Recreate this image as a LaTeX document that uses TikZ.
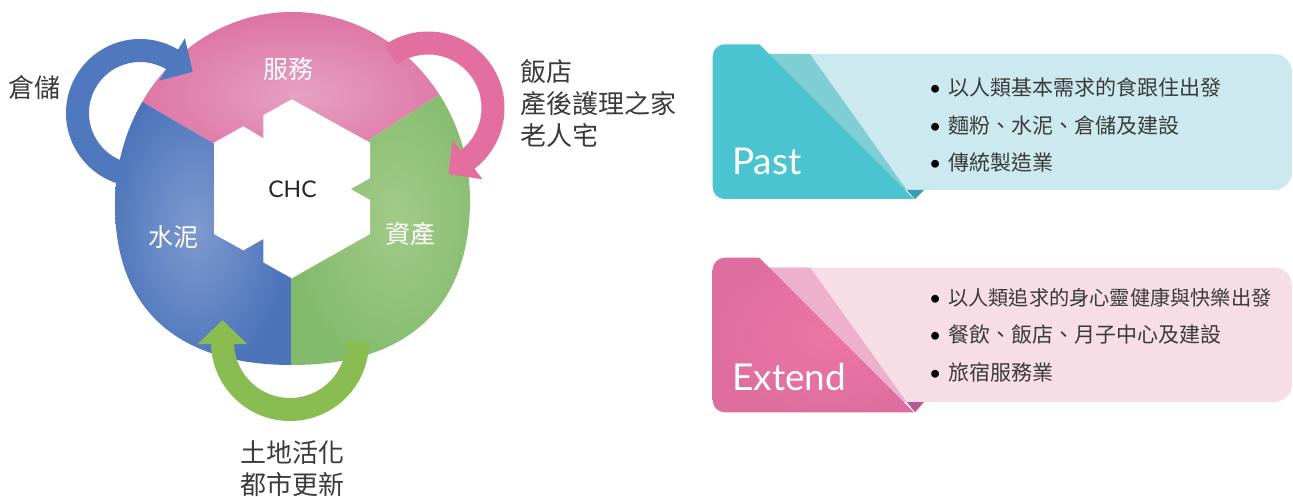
\documentclass[tikz,border=0pt]{standalone}
\usepackage{fontspec}
\setmainfont{Lato}
\newfontfamily\cjk{Noto Sans CJK TC}
\usetikzlibrary{arrows.meta}
\definecolor{pinkedge}{HTML}{DC6C9F}
\definecolor{pinkmid}{HTML}{E6A0C2}
\definecolor{blueedge}{HTML}{4A73BA}
\definecolor{bluemid}{HTML}{7E9ACE}
\definecolor{greenedge}{HTML}{82BB6C}
\definecolor{greenmid}{HTML}{A3CA88}
\definecolor{pinkarc}{HTML}{E26FA0}
\definecolor{bluearc}{HTML}{4F78BE}
\definecolor{greenarc}{HTML}{8ABD51}
\definecolor{pastdark}{HTML}{4BC4D1}
\definecolor{pastband}{HTML}{7FCED3}
\definecolor{pastlight}{HTML}{CBE9EE}
\definecolor{pasttip}{HTML}{3A9FAB}
\definecolor{extdark}{HTML}{DF6EA0}
\definecolor{extmid}{HTML}{EC76A2}
\definecolor{extband}{HTML}{EEB1CB}
\definecolor{extlight}{HTML}{F6DDE6}
\definecolor{exttip}{HTML}{B65A94}
\definecolor{txtgray}{HTML}{3A3A3A}
\newcommand{\pointmark}{\makebox[19pt][l]{\rmfamily\textcolor{black}{•}}}
\begin{document}
\begin{tikzpicture}[x=1pt,y=-1pt,
  lbl/.style={font=\cjk\fontsize{26}{31.7}\selectfont, text=txtgray, inner sep=0pt},
  seclbl/.style={font=\cjk\fontsize{25}{25}\selectfont, text=white, inner sep=0pt},
  bul/.style={font=\cjk\fontsize{21}{37.3}\selectfont, text=txtgray, align=left, inner sep=0pt, anchor=west},
  ttl/.style={font=\fontsize{37}{37}\selectfont, text=white, inner sep=0pt, anchor=base west},
  cyc/.style={line width=23pt, -{Triangle[width=48pt,length=24pt]}}]
\useasboundingbox (0,0) rectangle (1293,497);

\coordinate (O) at (291.7,189);
\coordinate (blueC) at (140,113);
\coordinate (pinkC) at (428,108);
\coordinate (greenC) at (290,342);

\begin{scope}
\clip (292,12) .. controls (390,12) and (470,96) .. (470,200) .. controls (470,307) and (408,365) .. (292,365) .. controls (177,365) and (115,309) .. (115,205) .. controls (115,98) and (194,12) .. cycle;
\shade[inner color=pinkmid, outer color=pinkedge] (O) -- (100,77.3) -- (100,0) -- (500,0) -- (500,56) -- cycle;
\shade[inner color=bluemid, outer color=blueedge] (O) -- (100,77.3) -- (100,380) -- (291.7,380) -- cycle;
\shade[inner color=greenmid, outer color=greenedge] (O) -- (500,56) -- (500,380) -- (291.7,380) -- cycle;
\end{scope}
\fill[white] (291.7,99.3) -- (370,142.7) -- (370,178.3) -- (350.7,189) -- (370,200) -- (370,234) -- (291.7,278.3) -- (263.3,262.3) -- (263.3,239) -- (243.3,250.3) -- (214,234) -- (214,142.7) -- (243.3,126.3) -- (263.3,138.3) -- (263.3,115.2) -- cycle;

\draw[cyc, draw=bluearc] ([shift={(100:62.5)}]blueC) arc[start angle=100, end angle=301, radius=62.5] -- ++(31:24);
\draw[cyc, draw=pinkarc] ([shift={(235:65)}]pinkC) arc[start angle=235, end angle=412.6, radius=65] -- ++(142.6:24);
\draw[cyc, draw=greenarc] ([shift={(0:67.5)}]greenC) arc[start angle=0, end angle=180, radius=67.5] -- ++(270:22);

\node[font=\fontsize{23}{23}\selectfont, text=black!85] (chc) at (292.5,189) {CHC};
\node[seclbl] (service) at (288.3,69) {服務};
\node[seclbl] (cement) at (173.3,237.5) {水泥};
\node[seclbl] (asset) at (410.8,234) {資產};
\node[lbl] (storage) at (35,88) {倉儲};
\node[lbl, align=left, anchor=west] (hotel) at (520,103.3) {飯店\\產後護理之家\\老人宅};
\node[lbl, align=center] (land) at (292.5,468.3) {土地活化\\都市更新};

\fill[pastlight, rounded corners=18pt] (740,54) rectangle (1292,190);
\fill[pastband] (750,54) -- (810,54) -- (906.7,190) -- (750,190) -- cycle;
\begin{scope}
\clip (700,30) -- (745,30) -- (940,225) -- (700,225) -- cycle;
\fill[pastdark, rounded corners=12pt] (712.7,44.3) rectangle (940,199);
\end{scope}
\fill[pasttip] (906.7,190) -- (924,190) -- (915,199) -- cycle;
\node[ttl] (past) at (732,175) {Past};
\node[bul] (pastlist) at (929,125) {\pointmark 以人類基本需求的食跟住出發\\\pointmark 麵粉、水泥、倉儲及建設\\\pointmark 傳統製造業};

\fill[extlight, rounded corners=18pt] (740,267.5) rectangle (1292,402);
\fill[extband] (750,267.5) -- (810,267.5) -- (906.7,402) -- (750,402) -- cycle;
\begin{scope}
\clip (700,240) -- (741.6,240) -- (940,438.4) -- (700,438.4) -- cycle;
\shade[inner color=extmid, outer color=extdark, rounded corners=12pt] (712.7,257.7) rectangle (940,412.3);
\end{scope}
\fill[exttip] (906.7,402) -- (924,402) -- (915,412.3) -- cycle;
\node[ttl] (extend) at (732,390.7) {Extend};
\node[bul] (extlist) at (929,335) {\pointmark {\fontsize{20.2}{37.3}\selectfont 以人類追求的身心靈健康與快樂出發}\\\pointmark 餐飲、飯店、月子中心及建設\\\pointmark 旅宿服務業};
\end{tikzpicture}
\end{document}
